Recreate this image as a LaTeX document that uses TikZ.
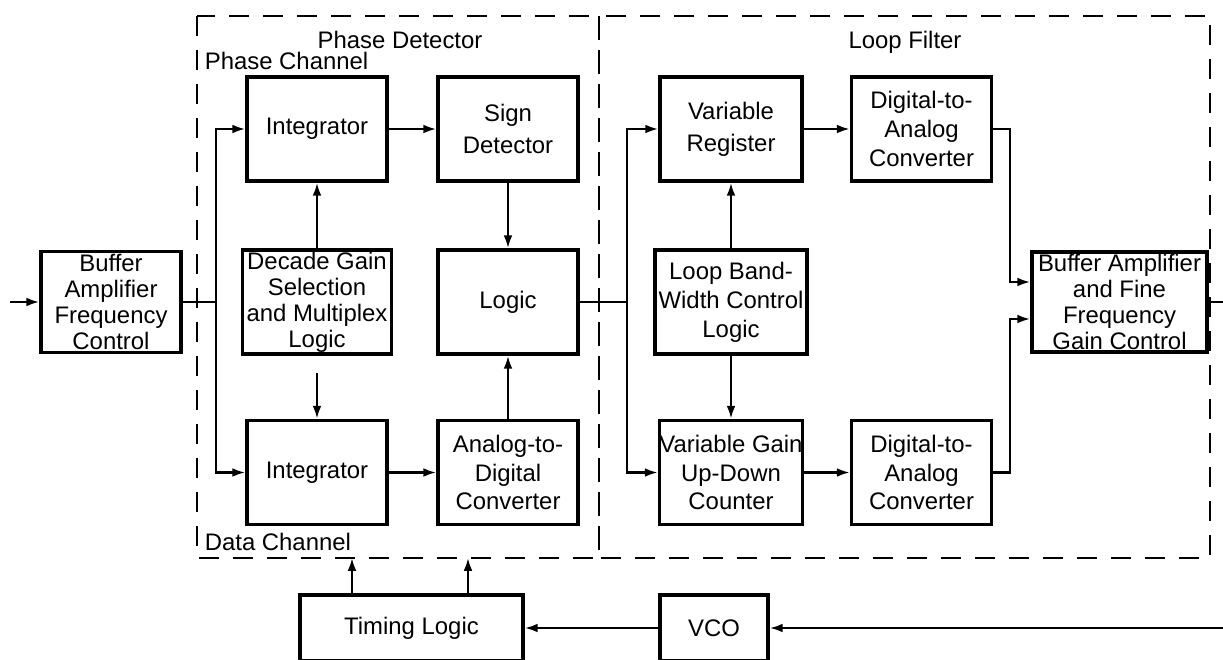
\documentclass[tikz,border=0pt]{standalone}
\usepackage{fontspec}
\setmainfont{Liberation Sans}
\usetikzlibrary{shapes,arrows.meta}
\usetikzlibrary{calc}
\tikzstyle{block} = [draw, line width=2.6pt, rectangle, align=center, inner sep=0pt,
    minimum width=3.5cm, minimum height=2.6cm]
\tikzstyle{twoline} = [font=\fontsize{17}{22.5}\selectfont]
\tikzstyle{threeline} = [font=\fontsize{17}{20.5}\selectfont]
\tikzstyle{group} = [line width=1.6pt, dash pattern=on 0.5cm off 0.35cm]
\tikzstyle{input} = [coordinate]
\tikzstyle{output} = [coordinate]

\begin{document}
\begin{tikzpicture}[x=0.025cm, y=-0.025cm, >={Latex[length=3.2mm,width=2.2mm]}, line width=1.6pt,
    every node/.style={font=\fontsize{17}{18.5}\selectfont}]

    \useasboundingbox (0,0) rectangle (1223,659);

    % dashed groups
    \draw[group] (197,16) rectangle (599,558);
    \draw[group] (599,16) rectangle (1210,558);
    \node[anchor=base] (pdlabel) at (400,48) {Phase Detector};
    \node[anchor=base west] (pclabel) at (199,69) {Phase Channel};
    \node[anchor=base west] (dclabel) at (199,550) {Data Channel};
    \node[anchor=base] (lflabel) at (905,48) {Loop Filter};

    % input stage
    \node [input, name=input] at (10,302) {};
    \node[block, minimum height=2.53cm] at (111,302) (buf1) {Buffer\\Amplifier\\Frequency\\Control};
    \draw[->] (input) -- (buf1);
    \node [input, name=split1] at (216,302) {};
    \draw (buf1) -- (split1);

    % phase detector
    \node[block] at (317,129) (int1) {Integrator};
    \node[block, twoline] at (508,129) (sign) {Sign\\Detector};
    \node[block, minimum width=3.72cm] at (317,302) (dec) {Decade Gain\\Selection\\and Multiplex\\Logic};
    \node[block] at (508,302) (logic) {Logic};
    \node[block] at (317,472.5) (int2) {Integrator};
    \node[block, threeline] at (508,472.5) (adc) {Analog-to-\\Digital\\Converter};
    \node [input, name=dtap] at (317,373) {};

    \draw[->] (split1) |- (int1);
    \draw[->] (split1) |- (int2);
    \draw[->] (int1) -- (sign);
    \draw[->] (sign) -- (logic);
    \draw[->] (adc) -- (logic);
    \draw[->] (dec) -- (int1);
    \draw[->] (dtap) -- (int2);
    \draw[->] (int2) -- (adc);

    % loop filter
    \node [input, name=split2] at (627,302) {};
    \node[block, twoline, minimum width=3.55cm] at (731,129) (varreg) {Variable\\Register};
    \node[block, threeline] at (921.5,129) (dac1) {Digital-to-\\Analog\\Converter};
    \node[block, threeline, minimum width=3.8cm] at (731,302) (loopbw) {Loop Band-\\Width Control\\Logic};
    \node[block, threeline, minimum width=3.55cm] at (731,472.5) (vgc) {Variable Gain\\Up-Down\\Counter};
    \node[block, threeline] at (921.5,472.5) (dac2) {Digital-to-\\Analog\\Converter};
    \node[block, minimum width=4.375cm, minimum height=2.5cm] at (1119.5,302) (buf2) {Buffer Amplifier\\and Fine\\Frequency\\Gain Control};
    \node [input, name=join1] at (1010,282) {};
    \node [input, name=join2] at (1010,319) {};
    \node [output, name=output] at (1223,302) {};

    \draw (logic) -- (split2);
    \draw[->] (split2) |- (varreg);
    \draw[->] (split2) |- (vgc);
    \draw[->] (loopbw) -- (varreg);
    \draw[->] (loopbw) -- (vgc);
    \draw[->] (varreg) -- (dac1);
    \draw[->] (vgc) -- (dac2);
    \draw[->] (dac1) -| (join1) -- (join1 -| buf2.west);
    \draw[->] (dac2) -| (join2) -- (join2 -| buf2.west);
    \draw (buf2) -- (output);

    % timing
    \node[block, minimum width=5.575cm, minimum height=1.65cm] at (411.5,628) (timing) {Timing Logic};
    \node[block, minimum width=2.7cm, minimum height=1.65cm] at (714,628) (vco) {VCO};
    \node [input, name=fb] at (1223,628) {};
    \node [coordinate, name=pd1] at (352,558) {};
    \node [coordinate, name=pd2] at (468,558) {};

    \draw[->] (fb) -- (vco);
    \draw[->] (vco) -- (timing);
    \draw[->] (pd1 |- timing.north) -- (pd1);
    \draw[->] (pd2 |- timing.north) -- (pd2);
\end{tikzpicture}
\end{document}
